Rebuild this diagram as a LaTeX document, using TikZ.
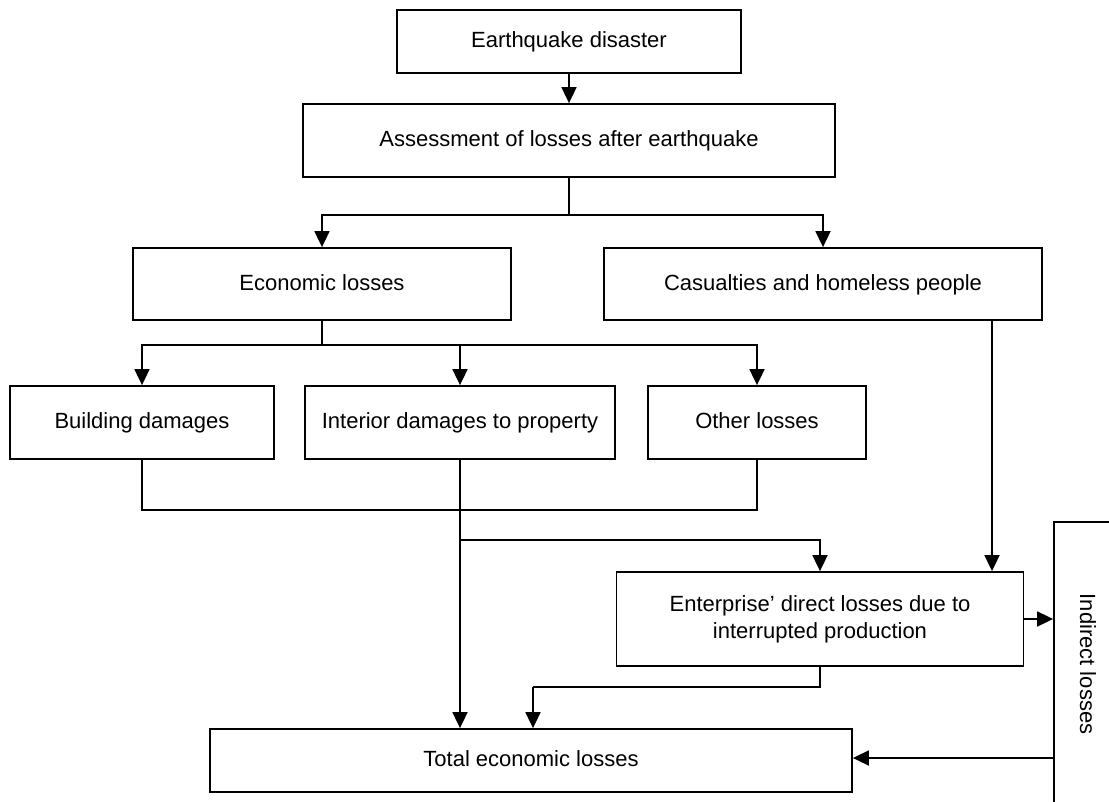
\documentclass[tikz,border=0pt]{standalone}
\usepackage{fontspec}
\setmainfont{Liberation Sans}
\usepackage{graphicx}
\usetikzlibrary{arrows.meta}
\begin{document}
\begin{tikzpicture}[x=1pt,y=-1pt,line width=1.8pt,
  box/.style={draw, line width=1.8pt, inner sep=0pt, align=center,
    font=\fontsize{22}{27}\selectfont},
  onerow/.style={box, text height=16pt, text depth=4pt},
  arr/.style={-{Triangle[length=16pt,width=15pt]}}]
\useasboundingbox (0,0) rectangle (1109,801);
\clip (0,0) rectangle (1109,801);

% boxes
\node[onerow, minimum width=344, minimum height=63] (eq) at (569,41.5) {Earthquake disaster};
\node[onerow, minimum width=532, minimum height=73] (as) at (569,140.5) {Assessment of losses after earthquake};
\node[onerow, minimum width=378, minimum height=72] (el) at (322,284) {Economic losses};
\node[onerow, minimum width=438, minimum height=72] (ca) at (823,284) {Casualties and homeless people};
\node[onerow, minimum width=264, minimum height=73] (bd) at (142,422.5) {Building damages};
\node[onerow, minimum width=310, minimum height=73] (id) at (460,422.5) {Interior damages to property};
\node[onerow, minimum width=218, minimum height=73] (ol) at (757,422.5) {Other losses};
\node[box, minimum width=407, minimum height=94] (en) at (820,619) {Enterprise’ direct losses due to\\interrupted production};
\node[onerow, minimum width=642, minimum height=63] (to) at (531,760.5) {Total economic losses};
\node[box, minimum width=68, minimum height=284] (in) at (1088,664) {\rotatebox{-90}{Indirect losses}};

% junction points
\coordinate (j1) at (569,215);
\coordinate (j2) at (322,345);
\coordinate (j3) at (460,540);
\coordinate (j4) at (533,687);
\coordinate (j5) at ([yshift=2.5pt]to.east);

% connectors
\draw[arr] (eq.south) -- (as.north);
\draw (as.south) -- (j1);
\draw[arr] (j1) -| (el.north);
\draw[arr] (j1) -| (ca.north);
\draw (el.south) -- (j2);
\draw[arr] (j2) -| (bd.north);
\draw[arr] (j2) -| (id.north);
\draw[arr] (j2) -| (ol.north);
\draw (bd.south) -- ++(0,50) -| (ol.south);
\draw[arr] (id.south) -- (id.south |- to.north);
\draw[arr] (j3) -| (en.north);
\draw[arr] ([xshift=169]ca.south) -- ([xshift=169]ca.south |- en.north);
\draw[arr] (en.east) -- (en.east -| in.west);
\draw (en.south) |- (j4);
\draw[arr] (j4) -- (j4 |- to.north);
\draw[arr] (j5 -| in.west) -- (j5);
\end{tikzpicture}
\end{document}
